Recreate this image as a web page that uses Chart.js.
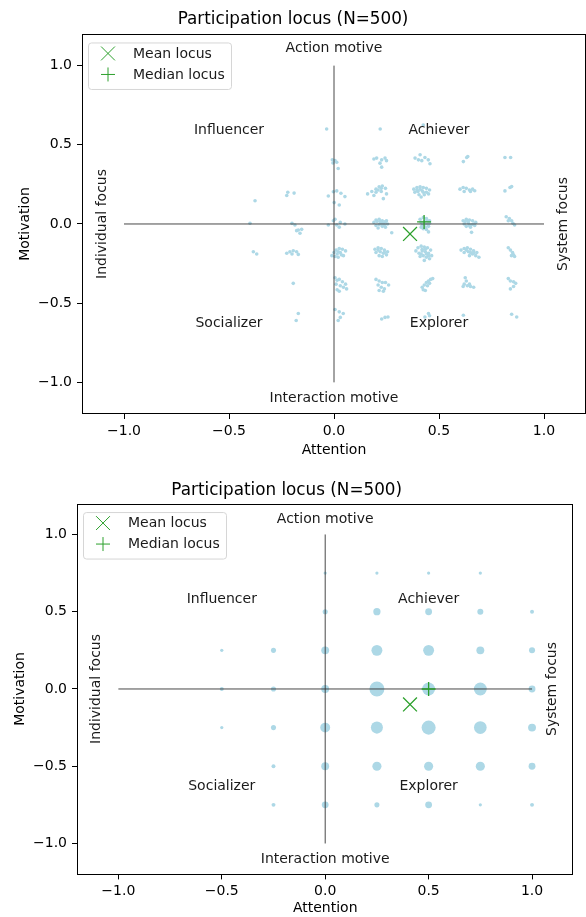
<!DOCTYPE html>
<html>
<head>
<meta charset="utf-8">
<script src="https://cdn.jsdelivr.net/npm/chart.js@4.4.1/dist/chart.umd.min.js"></script>
<style>
  html, body { margin: 0; padding: 0; background: #fff; overflow: hidden; }
  .panel { position: relative; width: 586px; }
  #topPanel { height: 460px; }
  #bottomPanel { height: 457px; }
</style>
</head>
<body>
<div class="panel" id="topPanel"><canvas id="chartTop"></canvas></div>
<div class="panel" id="bottomPanel"><canvas id="chartBottom"></canvas></div>
<script>
const chartTitle = 'Participation locus (N=500)';
const tickValues = [-1, -0.5, 0, 0.5, 1];
const quadrantNames = ['Influencer', 'Achiever', 'Socializer', 'Explorer'];
const axisNotes = ['Action motive', 'Interaction motive', 'Individual focus', 'System focus'];
const legendNames = ['Mean locus', 'Median locus'];

// top panel: jittered answers
const rowA = [[-0.035,0.60],[0.22,0.60],[0.425,0.625]];
const rowB = [[-0.008,0.405],[0.005,0.40],[0.013,0.39],[0.02,0.35],[-0.005,0.385],
  [0.203,0.416],[0.227,0.405],[0.243,0.416],[0.219,0.384],[0.227,0.359],[0.19,0.41],[0.25,0.40],
  [0.386,0.416],[0.41,0.437],[0.433,0.42],[0.449,0.405],[0.457,0.38],[0.418,0.40],[0.402,0.405],
  [0.616,0.394],[0.632,0.42],[0.637,0.426],[0.814,0.42],[0.841,0.42]];
const rowC = [[-0.376,0.147],[-0.22,0.20],[-0.225,0.18],[-0.19,0.195],
  [-0.003,0.204],[0.013,0.209],[0.033,0.194],[0.052,0.173],[-0.027,0.177],[0.001,0.135],[0.025,0.12],
  [0.16,0.19],[0.18,0.205],[0.2,0.22],[0.215,0.235],[0.23,0.24],[0.245,0.225],[0.2,0.2],[0.225,0.205],[0.25,0.19],[0.235,0.16],[0.19,0.18],[0.21,0.215],[0.225,0.225],
  [0.38,0.22],[0.395,0.23],[0.41,0.235],[0.425,0.23],[0.44,0.225],[0.455,0.215],[0.385,0.2],[0.4,0.205],[0.42,0.21],[0.44,0.2],[0.45,0.19],[0.405,0.185],[0.43,0.185],[0.415,0.17],[0.41,0.22],[0.425,0.2],[0.395,0.215],
  [0.6,0.22],[0.615,0.23],[0.63,0.225],[0.645,0.215],[0.66,0.22],[0.67,0.21],[0.62,0.205],[0.65,0.205],
  [0.814,0.209],[0.838,0.23],[0.846,0.236]];
const rowD = [[-0.40,0.005],
  [-0.2,0.004],[-0.186,-0.006],[-0.17,-0.038],[-0.154,-0.034],[-0.162,-0.059],[-0.178,-0.042],
  [-0.027,-0.006],[-0.003,0.02],[0.013,-0.006],[0.03,0.01],[0.052,0.0],[0.025,-0.02],[0.005,0.03],
  [0.19,0.01],[0.2,0.025],[0.215,0.03],[0.23,0.02],[0.245,0.015],[0.255,0.0],[0.2,-0.01],[0.215,-0.005],[0.23,-0.015],[0.245,-0.02],[0.21,-0.025],[0.225,0.005],[0.275,-0.055],
  [0.205,0.015],[0.22,0.015],[0.235,0.005],[0.24,-0.005],[0.25,0.02],
  [0.41,0.03],[0.425,0.04],[0.44,0.035],[0.455,0.02],[0.415,0.01],[0.43,0.015],[0.445,0.0],[0.42,-0.01],[0.435,-0.02],[0.45,-0.015],[0.425,-0.03],[0.44,-0.035],[0.45,-0.05],
  [0.43,0.0],[0.445,0.02],[0.415,-0.02],[0.455,0.005],
  [0.615,0.02],[0.63,0.03],[0.645,0.025],[0.66,0.02],[0.675,0.01],[0.62,0.0],[0.64,0.005],[0.655,-0.005],[0.67,-0.01],[0.63,-0.015],[0.65,-0.02],[0.655,-0.053],
  [0.625,0.015],[0.64,0.02],[0.665,0.0],[0.645,-0.01],
  [0.82,0.046],[0.835,0.035],[0.846,0.02],[0.852,0.005],[0.86,-0.006],[0.83,0.02]];
const rowE = [[-0.384,-0.175],[-0.368,-0.19],
  [-0.225,-0.185],[-0.21,-0.175],[-0.194,-0.169],[-0.178,-0.175],[-0.17,-0.192],[-0.2,-0.19],
  [-0.01,-0.2],[0.0,-0.18],[0.01,-0.165],[0.025,-0.155],[0.04,-0.16],[0.055,-0.17],[0.015,-0.19],[0.03,-0.18],[0.045,-0.2],[0.02,-0.21],[0.005,-0.205],[0.02,-0.175],[0.035,-0.195],
  [0.195,-0.16],[0.21,-0.15],[0.225,-0.155],[0.24,-0.165],[0.255,-0.175],[0.2,-0.18],[0.22,-0.175],[0.235,-0.185],[0.25,-0.195],[0.215,-0.2],[0.23,-0.205],[0.21,-0.165],[0.24,-0.18],
  [0.39,-0.17],[0.4,-0.15],[0.415,-0.14],[0.43,-0.145],[0.445,-0.15],[0.46,-0.165],[0.405,-0.185],[0.42,-0.17],[0.435,-0.175],[0.45,-0.185],[0.465,-0.2],[0.41,-0.205],[0.425,-0.2],[0.44,-0.21],[0.455,-0.22],[0.43,-0.23],
  [0.42,-0.16],[0.435,-0.16],[0.45,-0.2],[0.415,-0.19],[0.44,-0.19],
  [0.605,-0.165],[0.62,-0.155],[0.635,-0.15],[0.65,-0.16],[0.665,-0.17],[0.68,-0.18],[0.62,-0.18],[0.64,-0.175],[0.66,-0.19],[0.675,-0.2],[0.645,-0.2],[0.69,-0.21],
  [0.63,-0.165],[0.65,-0.18],[0.665,-0.185],
  [0.83,-0.15],[0.84,-0.165],[0.85,-0.18],[0.855,-0.195],[0.86,-0.205],[0.845,-0.2]];
const rowF = [[-0.194,-0.375],
  [0.005,-0.34],[0.015,-0.355],[0.025,-0.35],[0.04,-0.365],[0.055,-0.38],[0.01,-0.38],[0.03,-0.39],[0.045,-0.4],[0.015,-0.415],[0.025,-0.425],[0.06,-0.41],
  [0.2,-0.35],[0.215,-0.36],[0.23,-0.37],[0.245,-0.37],[0.21,-0.385],[0.225,-0.4],[0.24,-0.41],[0.26,-0.385],[0.215,-0.42],[0.235,-0.425],
  [0.42,-0.4],[0.43,-0.385],[0.44,-0.37],[0.45,-0.36],[0.46,-0.35],[0.47,-0.345],[0.425,-0.415],[0.445,-0.39],[0.455,-0.375],[0.435,-0.42],
  [0.625,-0.34],[0.63,-0.36],[0.62,-0.38],[0.635,-0.39],[0.65,-0.395],[0.665,-0.4],[0.645,-0.38],[0.615,-0.395],
  [0.83,-0.345],[0.84,-0.36],[0.855,-0.365],[0.865,-0.375],[0.855,-0.395],[0.84,-0.41]];
const rowG = [[-0.17,-0.565],[-0.18,-0.61],
  [0.005,-0.54],[0.025,-0.555],[0.044,-0.565],[0.03,-0.59],[0.02,-0.61],
  [0.227,-0.6],[0.243,-0.59],[0.257,-0.587],
  [0.433,-0.587],[0.45,-0.565],[0.455,-0.58],
  [0.616,-0.576],[0.846,-0.57],[0.87,-0.587]];
const meanTop = [0.362, -0.063];
const medianTop = [0.429, 0.013];

// bottom panel: answer levels and number of respondents per cell (rows from top)
const gridX = [-0.5, -0.25, 0, 0.25, 0.5, 0.75, 1.0];
const gridY = [0.75, 0.5, 0.25, 0, -0.25, -0.5, -0.75];
const cellCounts = [
  [0, 0, 2, 2, 2, 2, 0],
  [0, 0, 5, 10, 9, 7, 3],
  [2, 5, 12, 23, 23, 12, 7],
  [3, 5, 12, 43, 32, 32, 9],
  [2, 5, 19, 28, 38, 31, 12],
  [0, 3, 12, 16, 16, 16, 9],
  [0, 3, 9, 5, 9, 2, 3]
];
const meanBottom = [0.41, -0.10];
const medianBottom = [0.5, 0];

const FONT = '"DejaVu Sans", sans-serif';
Chart.defaults.font.family = FONT;
Chart.defaults.font.size = 14;
Chart.defaults.color = '#000';
Chart.defaults.animation = false;

const green = '#2ca02c';
const dotBlue = '#add8e6';
const fmt = v => (v < 0 ? '\u2212' : '') + Math.abs(v).toFixed(1);
const toXY = p => ({ x: p[0], y: p[1] });

const jitterPts = [].concat(rowA, rowB, rowC, rowD, rowE, rowF, rowG).map(toXY);
const bubblePts = [];
gridY.forEach((yv, r) => gridX.forEach((xv, c) => {
  if (cellCounts[r][c] > 0) bubblePts.push({ x: xv, y: yv, n: cellCounts[r][c] });
}));

function baseDatasets(mean, median, dataset) {
  return [
    { type: 'scatter', data: [toXY(mean)], pointStyle: 'crossRot', pointRadius: 9.8,
      borderColor: green, backgroundColor: green, pointBorderWidth: 1.3 },
    { type: 'scatter', data: [toXY(median)], pointStyle: 'cross', pointRadius: 7,
      borderColor: green, backgroundColor: green, pointBorderWidth: 1.3 },
    { type: 'line', data: [{x: -1, y: 0}, {x: 1, y: 0}], borderColor: '#333', borderWidth: 0.9, pointRadius: 0 },
    { type: 'line', data: [{x: 0, y: -1}, {x: 0, y: 1}], borderColor: '#333', borderWidth: 0.9, pointRadius: 0 },
    dataset
  ];
}

const framePlugin = {
  id: 'frame',
  afterDraw(chart, args, opts) {
    const { ctx, chartArea: a, scales: { x, y } } = chart;
    ctx.save();
    ctx.strokeStyle = '#000';
    ctx.lineWidth = 1;
    ctx.strokeRect(Math.round(a.left) + 0.5, Math.round(a.top) + 0.5,
      Math.round(a.right - a.left) - 1, Math.round(a.bottom - a.top) - 1);

    // quadrant and axis-end notes
    ctx.fillStyle = '#1a1a1a';
    ctx.font = '14px ' + FONT;
    ctx.textAlign = 'center';
    ctx.textBaseline = 'middle';
    opts.quad.forEach((p, i) => ctx.fillText(quadrantNames[i], x.getPixelForValue(p[0]), y.getPixelForValue(p[1])));
    ctx.fillText(axisNotes[0], x.getPixelForValue(0), y.getPixelForValue(opts.top));
    ctx.fillText(axisNotes[1], x.getPixelForValue(0), y.getPixelForValue(opts.bottom));
    [[axisNotes[2], opts.left], [axisNotes[3], opts.right]].forEach(([t, xv]) => {
      ctx.save();
      ctx.translate(x.getPixelForValue(xv), y.getPixelForValue(0));
      ctx.rotate(-Math.PI / 2);
      ctx.fillText(t, 0, 0);
      ctx.restore();
    });

    // legend box in the upper-left corner
    const bx = a.left + 6, by = a.top + 8.5, w = 143, h = 46.5;
    ctx.beginPath();
    ctx.roundRect(bx + 0.5, by + 0.5, w, h, 3);
    ctx.fillStyle = 'rgba(255,255,255,0.8)';
    ctx.fill();
    ctx.strokeStyle = '#d6d6d6';
    ctx.stroke();
    ctx.strokeStyle = green;
    ctx.fillStyle = green;
    Chart.helpers.drawPoint(ctx, { pointStyle: 'crossRot', radius: 9.8, borderWidth: 1.3 }, bx + 20, by + 11);
    Chart.helpers.drawPoint(ctx, { pointStyle: 'cross', radius: 7, borderWidth: 1.3 }, bx + 20, by + 32);
    ctx.fillStyle = '#1a1a1a';
    ctx.textAlign = 'left';
    ctx.fillText(legendNames[0], bx + 45, by + 11.5);
    ctx.fillText(legendNames[1], bx + 45, by + 32.5);
    ctx.restore();
  }
};

function makeChart(id, datasets, lay) {
  return new Chart(document.getElementById(id), {
    type: 'scatter',
    data: { datasets },
    plugins: [framePlugin],
    options: {
      responsive: true,
      maintainAspectRatio: false,
      layout: { autoPadding: false, padding: { left: 0, right: lay.padRight, top: 0, bottom: 0 } },
      plugins: {
        legend: { display: false },
        tooltip: { enabled: false },
        title: { display: true, text: chartTitle, color: '#000',
          font: { size: 16.8, weight: 'normal', lineHeight: 1.2 },
          padding: { top: lay.titleTop, bottom: lay.titleBottom } },
        frame: lay.notes
      },
      scales: {
        x: {
          type: 'linear', min: -1.2, max: 1.2,
          afterFit: s => { s.height = lay.xHeight; s.paddingLeft = 0; s.paddingRight = 0; },
          afterBuildTicks: s => { s.ticks = tickValues.map(v => ({ value: v })); },
          ticks: { callback: fmt, padding: 4, color: '#000' },
          grid: { drawOnChartArea: false, tickLength: 5, color: '#000' },
          border: { display: false },
          title: { display: true, text: 'Attention', color: '#000',
            padding: { top: 0, bottom: lay.xTitlePad } }
        },
        y: {
          type: 'linear', min: -1.2, max: 1.2,
          afterFit: s => { s.width = lay.yWidth; s.paddingTop = 0; s.paddingBottom = 0; },
          afterBuildTicks: s => { s.ticks = tickValues.map(v => ({ value: v })); },
          ticks: { callback: fmt, padding: 5, color: '#000' },
          grid: { drawOnChartArea: false, tickLength: 5, color: '#000' },
          border: { display: false },
          title: { display: true, text: 'Motivation', color: '#000',
            padding: { top: lay.yTitlePad, bottom: 0 } }
        }
      }
    }
  });
}

makeChart('chartTop', baseDatasets(meanTop, medianTop, {
  type: 'scatter', data: jitterPts, pointRadius: 1.8, pointBorderWidth: 0,
  backgroundColor: dotBlue, borderColor: dotBlue
}), {
  padRight: 0, titleTop: 9.9, titleBottom: 3.9, xHeight: 46, yWidth: 82, xTitlePad: 0.9, yTitlePad: 16.6,
  notes: { quad: [[-0.5, 0.59], [0.5, 0.59], [-0.5, -0.63], [0.5, -0.63]], top: 1.11, bottom: -1.1, left: -1.105, right: 1.09 }
});

makeChart('chartBottom', baseDatasets(meanBottom, medianBottom, {
  type: 'bubble', data: bubblePts,
  radius: c => Math.sqrt(c.raw.n) * 1.14, borderWidth: 0,
  backgroundColor: dotBlue, borderColor: dotBlue
}), {
  padRight: 12.6, titleTop: 20.9, titleBottom: 2.5, xHeight: 42.6, yWidth: 77, xTitlePad: 0, yTitlePad: 11.6,
  notes: { quad: [[-0.5, 0.58], [0.5, 0.58], [-0.5, -0.63], [0.5, -0.63]], top: 1.1, bottom: -1.1, left: -1.106, right: 1.097 }
});
</script>
</body>
</html>
